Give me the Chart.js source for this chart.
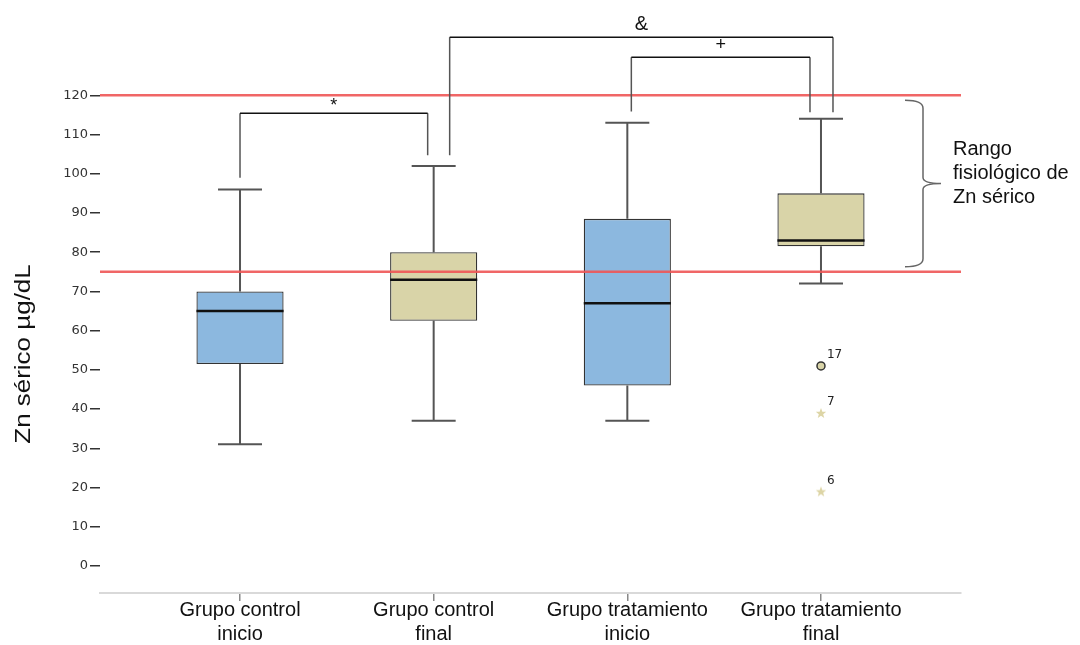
<!DOCTYPE html>
<html>
<head>
<meta charset="utf-8">
<script src="https://cdn.jsdelivr.net/npm/chart.js@4.4.1/dist/chart.umd.min.js"></script>
<style>
  html, body { margin: 0; padding: 0; background: #fff; }
  #wrap { width: 1080px; height: 645px; }
</style>
</head>
<body>
<div id="wrap"><canvas id="zincChart" width="1080" height="645"></canvas></div>
<script>
// Box plot values (µg/dL)
const xLabels = [
  ['Grupo control', 'inicio'],
  ['Grupo control', 'final'],
  ['Grupo tratamiento', 'inicio'],
  ['Grupo tratamiento', 'final']
];
const whiskerLow  = [31, 37, 37, 72];
const q1          = [51.5, 62.5, 46, 81.5];
const median      = [65, 73, 67, 83];
const q3          = [70, 80, 88.5, 95];
const whiskerHigh = [96, 102, 113, 114];

// outliers (group number, value, case id, kind: o = outlier, * = extreme)
const outlierGroup = [4, 4, 4];
const outlierValues = [51, 39, 19];
const outlierIds = ['17', '7', '6'];
const outlierKind = ['o', '*', '*'];

const yTicks = [0, 10, 20, 30, 40, 50, 60, 70, 80, 90, 100, 110, 120];
const refRange = [75, 120]; // physiological range of serum Zn

// significance brackets
const sigLabels = ['*', '&', '+'];
const sigFrom = [1, 2, 3];
const sigTo = [2, 4, 4];
const sigTop = [115.4, 134.8, 129.7];
const sigLegFrom = [99, 104.7, 115.9];
const sigLegTo = [104.7, 115.7, 115.7];

const boxColors = ['#8cb8df', '#d9d4a8', '#8cb8df', '#d9d4a8'];
const sigDx = [[0, -6], [16, 12], [4, -11]];

// small filled star used for the extreme values
function makeStar(color) {
  const c = document.createElement('canvas');
  c.width = 12; c.height = 12;
  const g = c.getContext('2d');
  g.fillStyle = color;
  g.beginPath();
  for (let k = 0; k < 10; k++) {
    const r = k % 2 === 0 ? 5.5 : 2.3;
    const a = -Math.PI / 2 + k * Math.PI / 5;
    g.lineTo(6 + r * Math.cos(a), 6.5 + r * Math.sin(a));
  }
  g.closePath();
  g.fill();
  return c;
}

// whiskers behind the boxes, medians / reference lines / notes on top
const boxPlotPlugin = {
  id: 'boxPlotExtras',
  beforeDatasetsDraw(chart) {
    const ctx = chart.ctx;
    const xs = chart.scales.x, ys = chart.scales.y;
    ctx.save();
    ctx.strokeStyle = '#555';
    ctx.lineWidth = 2;
    xLabels.forEach((l, i) => {
      const x = xs.getPixelForValue(i + 1);
      ctx.beginPath();
      ctx.moveTo(x, ys.getPixelForValue(whiskerLow[i]));
      ctx.lineTo(x, ys.getPixelForValue(q1[i]));
      ctx.moveTo(x, ys.getPixelForValue(q3[i]));
      ctx.lineTo(x, ys.getPixelForValue(whiskerHigh[i]));
      ctx.moveTo(x - 22, ys.getPixelForValue(whiskerLow[i]));
      ctx.lineTo(x + 22, ys.getPixelForValue(whiskerLow[i]));
      ctx.moveTo(x - 22, ys.getPixelForValue(whiskerHigh[i]));
      ctx.lineTo(x + 22, ys.getPixelForValue(whiskerHigh[i]));
      ctx.stroke();
    });
    ctx.restore();
  },
  afterDatasetsDraw(chart) {
    const ctx = chart.ctx;
    const xs = chart.scales.x, ys = chart.scales.y;
    const area = chart.chartArea;
    const bars = chart.getDatasetMeta(0).data;
    ctx.save();
    // medians
    ctx.strokeStyle = '#111';
    ctx.lineWidth = 2.5;
    bars.forEach((bar, i) => {
      const y = ys.getPixelForValue(median[i]);
      ctx.beginPath();
      ctx.moveTo(bar.x - bar.width / 2, y);
      ctx.lineTo(bar.x + bar.width / 2, y);
      ctx.stroke();
    });
    // reference range lines
    ctx.strokeStyle = 'rgba(238, 85, 85, 0.9)';
    ctx.lineWidth = 2.5;
    refRange.forEach(v => {
      const y = ys.getPixelForValue(v);
      ctx.beginPath();
      ctx.moveTo(area.left, y);
      ctx.lineTo(area.right, y);
      ctx.stroke();
    });
    // outlier case labels
    ctx.fillStyle = '#222';
    ctx.font = '12px "DejaVu Sans"';
    ctx.textAlign = 'left';
    ctx.textBaseline = 'middle';
    outlierValues.forEach((v, i) => {
      const x = xs.getPixelForValue(outlierGroup[i]);
      const y = ys.getPixelForValue(v);
      ctx.fillText(outlierIds[i], x + 6, y - 11);
    });
    ctx.restore();
  },
  afterDraw(chart) {
    const ctx = chart.ctx;
    const xs = chart.scales.x, ys = chart.scales.y;
    ctx.save();
    // significance brackets
    sigLabels.forEach((lab, i) => {
      const x1 = xs.getPixelForValue(sigFrom[i]) + sigDx[i][0];
      const x2 = xs.getPixelForValue(sigTo[i]) + sigDx[i][1];
      const yt = ys.getPixelForValue(sigTop[i]);
      ctx.lineWidth = 1.5;
      ctx.strokeStyle = '#555';
      ctx.beginPath();
      ctx.moveTo(x1, ys.getPixelForValue(sigLegFrom[i]));
      ctx.lineTo(x1, yt);
      ctx.moveTo(x2, ys.getPixelForValue(sigLegTo[i]));
      ctx.lineTo(x2, yt);
      ctx.stroke();
      ctx.strokeStyle = '#111';
      ctx.beginPath();
      ctx.moveTo(x1, yt);
      ctx.lineTo(x2, yt);
      ctx.stroke();
      ctx.fillStyle = '#111';
      ctx.font = (lab === '&' ? '20px' : '18px') + ' "Liberation Sans", Arial';
      ctx.textAlign = 'center';
      ctx.textBaseline = 'bottom';
      ctx.fillText(lab, (x1 + x2) / 2, yt - (lab === '*' ? -2 : 3));
    });
    // curly brace for the physiological range
    const bTop = ys.getPixelForValue(refRange[1]) + 5;
    const bBot = ys.getPixelForValue(refRange[0]) - 5;
    const bMid = (bTop + bBot) / 2;
    const bx = chart.chartArea.right - 38;
    ctx.strokeStyle = '#666';
    ctx.lineWidth = 1.5;
    ctx.beginPath();
    ctx.moveTo(bx - 18, bTop);
    ctx.quadraticCurveTo(bx, bTop, bx, bTop + 8);
    ctx.lineTo(bx, bMid - 6);
    ctx.quadraticCurveTo(bx, bMid, bx + 18, bMid);
    ctx.quadraticCurveTo(bx, bMid, bx, bMid + 6);
    ctx.lineTo(bx, bBot - 8);
    ctx.quadraticCurveTo(bx, bBot, bx - 18, bBot);
    ctx.stroke();
    ctx.fillStyle = '#111';
    ctx.font = '20px "Liberation Sans", Arial';
    ctx.textAlign = 'left';
    ctx.textBaseline = 'middle';
    ctx.fillText('Rango', 953, bMid - 34);
    ctx.fillText('fisiológico de', 953, bMid - 10);
    ctx.fillText('Zn sérico', 953, bMid + 14);
    // y axis title
    ctx.translate(24, 354);
    ctx.rotate(-Math.PI / 2);
    ctx.scale(1.18, 1);
    ctx.textAlign = 'center';
    ctx.font = '22px "Liberation Sans", Arial';
    ctx.fillText('Zn sérico µg/dL', 0, 0);
    ctx.restore();
  }
};

function createBoxPlot() {
  const ctx = document.getElementById('zincChart').getContext('2d');
  const star = makeStar('#ddd5a6');
  new Chart(ctx, {
    type: 'bar',
    data: {
      datasets: [{
        label: 'Zn sérico',
        data: xLabels.map((l, i) => ({ x: i + 1, y: [q1[i], q3[i]] })),
        backgroundColor: boxColors,
        borderColor: '#333',
        borderWidth: 1.3,
        borderSkipped: false,
        barPercentage: 1,
        categoryPercentage: 0.45
      }, {
        type: 'scatter',
        label: 'Atípicos',
        data: outlierValues.map((v, i) => ({ x: outlierGroup[i], y: v })),
        pointStyle: outlierKind.map(k => k === 'o' ? 'circle' : star),
        pointRadius: 4,
        backgroundColor: '#d9d4a8',
        borderColor: '#333',
        borderWidth: 1.5
      }]
    },
    options: {
      responsive: false,
      animation: false,
      layout: { padding: { left: 0, right: 119, top: 0, bottom: 0 } },
      plugins: {
        legend: { display: false },
        tooltip: { enabled: false }
      },
      scales: {
        x: {
          type: 'linear',
          offset: false,
          min: 0.277,
          max: 4.723,
          afterBuildTicks: scale => { scale.ticks = xLabels.map((l, i) => ({ value: i + 1 })); },
          afterFit: scale => { scale.height = 52; },
          grid: { offset: false, drawOnChartArea: false, drawTicks: true, tickLength: 8, color: '#888', lineWidth: 1.5 },
          border: { display: true, color: '#d9d9d9', width: 2 },
          ticks: {
            padding: -3,
            maxRotation: 0,
            autoSkip: false,
            color: '#111',
            font: { family: '"Liberation Sans", Arial', size: 20, lineHeight: 1.2 },
            callback: v => xLabels[v - 1]
          }
        },
        y: {
          type: 'linear',
          min: -6.9,
          max: 142.9,
          afterBuildTicks: scale => { scale.ticks = yTicks.map(v => ({ value: v })); },
          afterFit: scale => { scale.width = 100; },
          grid: { drawOnChartArea: false, drawTicks: true, tickLength: 10, color: '#333', lineWidth: 1.5 },
          border: { display: false },
          ticks: {
            padding: 2,
            color: '#333',
            font: { family: '"DejaVu Sans"', size: 13, lineHeight: 0 }
          }
        }
      }
    },
    plugins: [boxPlotPlugin]
  });
}

window.onload = function() {
  createBoxPlot();
};
</script>
</body>
</html>
